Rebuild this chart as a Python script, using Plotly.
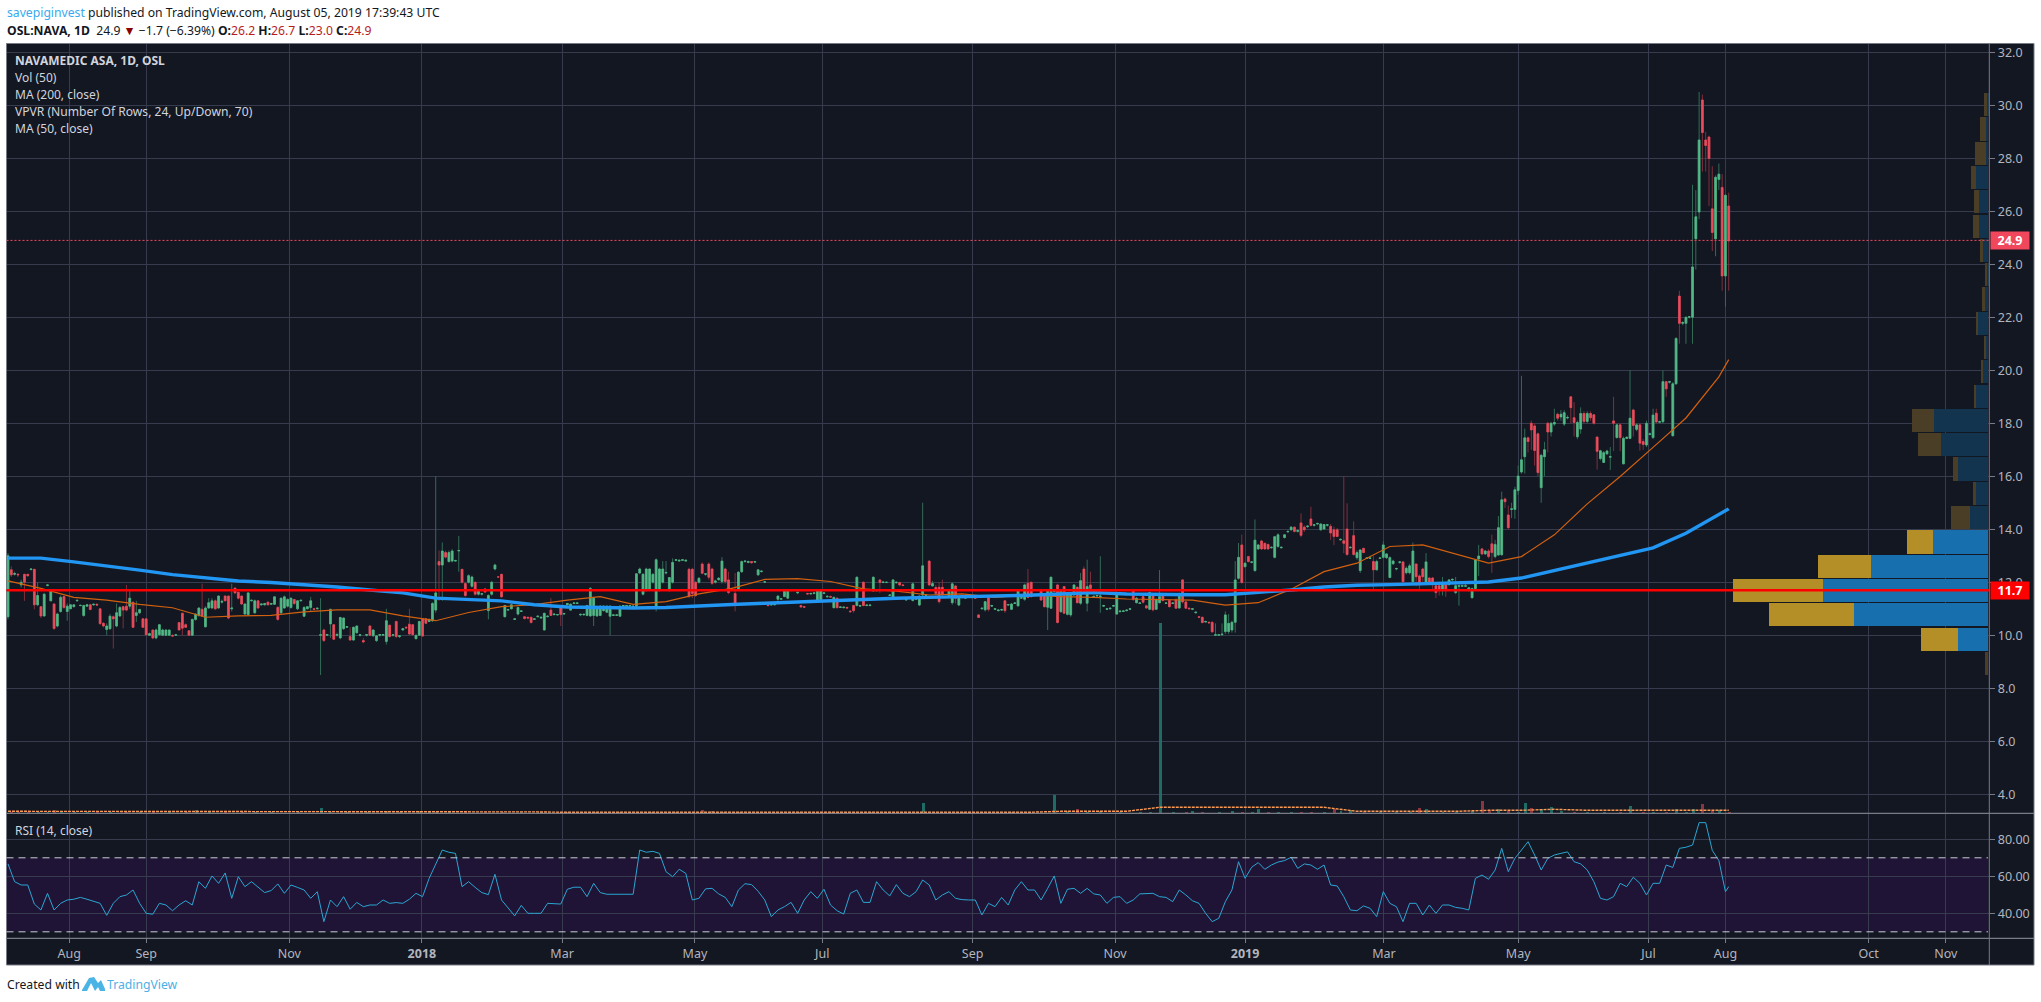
import plotly.graph_objects as go

W, H = 2041, 1002

open_ = [
10.7,12.47,12.3,12.3,11.9,12.3,12.3,12.48,12.49,11.15,
11.08,10.73,11.88,11.3,11.18,10.35,10.9,11.46,10.9,11.0,
11.08,11.3,11.12,10.75,11.1,11.15,11.15,11.17,11.0,10.45,
10.22,10.25,10.7,10.35,10.73,11.08,11.1,11.1,11.25,10.75,
10.85,10.62,10.62,10.0,10.2,9.9,10.02,10.0,10.0,10.0,
10.0,10.0,10.48,10.83,10.4,10.17,10.0,10.6,10.75,10.98,
10.32,11.03,11.03,11.3,11.03,11.25,11.48,11.48,11.0,11.78,
11.62,11.48,10.8,10.78,11.3,10.85,11.3,11.15,11.15,11.25,
11.17,11.17,11.05,10.85,11.03,11.1,11.05,11.35,11.0,11.3,
10.72,11.0,11.05,11.0,11.0,10.0,10.2,10.0,10.43,10.4,
10.0,9.9,10.25,10.3,9.95,9.82,10.1,10.0,9.8,10.0,
10.35,9.98,9.8,10.0,10.0,9.77,10.38,10.0,10.52,9.95,
10.2,10.3,10.42,10.4,9.87,10.0,10.63,10.62,10.52,10.55,
10.95,12.78,12.65,13.12,12.78,12.8,12.8,13.18,12.49,11.95,
12.0,11.85,12.0,11.55,11.55,11.75,10.93,11.55,12.5,12.2,
12.3,10.7,10.95,11.0,10.6,10.8,10.9,10.7,10.68,10.68,
10.6,10.7,10.65,10.2,10.7,10.95,10.78,10.77,11.05,10.8,
11.15,10.95,11.2,11.2,10.77,10.77,10.75,10.73,10.75,10.73,
10.75,10.93,10.87,10.72,10.75,10.75,10.72,11.1,11.1,11.1,
11.08,11.1,12.35,11.55,11.7,11.72,12.0,11.1,11.7,12.0,
12.35,11.7,12.0,12.83,12.8,12.83,12.8,12.49,12.49,12.0,
12.0,12.69,12.3,12.69,12.5,12.0,12.1,12.03,12.5,12.09,
11.75,11.58,11.71,12.4,12.78,12.75,12.78,12.76,12.28,12.4,
12.0,11.14,11.14,11.15,11.36,11.36,11.46,11.4,11.69,11.7,
11.6,11.12,11.08,11.58,11.56,11.58,11.3,11.35,11.58,11.45,
11.46,11.04,11.4,11.05,11.04,11.05,10.91,11.12,11.12,11.1,
12.0,11.12,11.12,11.67,11.68,12.09,11.99,11.99,11.5,11.37,
11.98,11.99,11.9,11.33,11.4,11.31,11.36,11.14,11.52,11.5,
12.8,11.86,11.8,11.81,11.81,11.7,11.43,11.23,11.86,11.14,
11.42,11.4,11.43,11.42,11.42,10.77,11.0,10.96,11.5,11.1,
10.98,10.93,10.95,11.3,11.14,10.98,11.2,11.11,11.4,11.36,
11.96,12.0,11.52,11.5,11.71,11.52,11.06,11.02,11.65,11.9,
10.89,11.84,10.79,10.77,11.52,11.81,11.21,12.5,11.21,11.9,
11.45,11.48,11.46,11.1,10.98,11.0,11.1,10.8,10.89,10.9,
10.93,10.98,11.71,11.23,11.2,11.46,11.11,10.98,11.48,10.98,
11.23,11.48,11.2,11.31,11.2,11.33,11.03,12.09,11.26,11.02,
10.98,10.85,10.7,10.68,10.5,10.49,10.49,10.0,10.0,10.02,
10.14,10.14,10.2,10.49,12.15,13.41,12.59,12.97,12.75,12.44,
13.26,13.56,13.47,13.43,13.3,12.94,13.35,13.3,13.69,13.9,
13.98,14.08,13.92,14.24,14.08,14.1,14.39,14.15,14.2,13.98,
14.01,14.15,14.11,13.98,13.98,13.6,13.57,14.01,13.3,13.76,
12.93,12.44,13.28,12.9,12.9,12.78,12.47,12.9,12.94,12.93,
12.18,12.7,12.5,12.75,12.77,12.36,12.36,12.02,12.69,12.24,
12.5,11.99,12.16,12.16,11.87,11.87,11.71,11.94,11.91,12.09,
11.61,11.85,11.85,11.85,11.71,11.42,11.76,12.88,13.26,13.07,
13.18,13.45,12.97,13.03,13.04,15.14,14.54,14.75,14.75,15.46,
16.16,16.74,17.45,18.0,17.9,17.6,15.57,16.74,18.0,17.67,
17.97,18.34,18.24,17.97,18.2,19.0,18.21,17.49,17.78,18.37,
18.07,18.37,18.32,17.48,16.67,16.52,16.85,16.72,18.09,17.46,
17.94,16.47,17.43,17.43,18.5,17.77,17.94,17.31,17.18,17.58,
17.46,18.38,18.04,18.06,19.57,19.55,17.53,19.49,22.8,21.77,
21.77,22.0,22.0,24.96,25.97,30.2,28.69,28.8,26.09,24.96,
27.2,26.9,23.56,26.2]

close_ = [
13.0,12.28,12.33,12.28,12.0,12.0,12.25,12.5,11.15,11.5,
10.73,11.55,11.9,11.7,10.26,10.8,11.43,11.05,11.1,11.15,
11.15,11.32,11.13,11.12,11.15,10.97,11.17,11.14,10.44,10.35,
10.35,10.72,10.62,10.85,11.05,10.95,10.95,11.4,10.3,10.85,
10.97,10.3,10.02,10.06,9.9,10.2,10.4,10.2,10.2,10.2,
9.97,10.02,10.2,10.27,10.3,10.0,10.6,10.8,11.03,10.73,
11.03,11.23,11.3,11.0,11.48,11.28,11.3,10.65,11.03,11.6,
11.4,11.18,11.18,11.6,11.32,11.3,11.03,11.18,11.2,11.15,
11.2,11.45,10.6,11.4,11.45,11.35,11.4,11.2,11.3,11.32,
11.05,11.08,11.3,10.98,11.02,10.02,9.8,10.03,10.98,9.85,
10.03,10.67,10.65,10.33,9.82,10.3,10.35,10.02,9.75,10.03,
10.0,10.2,9.98,10.03,10.03,10.55,9.95,10.02,9.95,9.98,
10.25,10.28,10.05,10.02,10.0,10.52,9.97,10.45,10.6,11.2,
11.6,12.65,13.18,12.95,13.12,13.18,12.82,13.2,12.0,11.5,
12.25,12.2,11.55,11.72,11.57,11.63,11.5,12.0,12.65,12.2,
11.45,11.12,10.97,11.15,10.62,11.05,10.92,10.63,10.65,10.48,
10.62,10.72,10.68,10.83,10.72,10.75,10.8,10.78,10.78,10.82,
11.2,11.17,11.22,11.22,10.79,10.79,11.12,11.77,11.4,11.08,
11.1,11.1,11.1,11.1,10.77,10.77,11.1,11.12,11.12,11.12,
11.1,12.32,12.5,12.3,12.5,12.5,12.3,12.85,12.5,12.5,
12.37,12.18,12.75,12.85,12.83,12.85,12.83,11.48,11.58,11.5,
12.15,12.34,12.32,12.19,11.96,12.05,12.15,12.8,12.03,11.61,
11.73,11.21,12.38,12.78,12.8,12.78,12.74,12.78,12.47,12.42,
12.02,11.12,11.16,11.17,11.48,11.38,11.71,11.71,11.7,11.72,
11.62,11.07,11.06,11.56,11.58,11.6,11.71,11.71,11.6,11.47,
11.44,11.43,11.04,11.07,11.06,11.03,10.89,10.93,12.19,11.12,
11.12,11.14,11.14,12.19,11.7,11.99,12.01,12.0,11.52,12.09,
12.0,11.9,11.88,11.35,11.42,11.94,11.38,11.48,12.62,11.52,
11.9,11.95,11.58,11.27,11.52,11.72,11.71,11.94,11.4,11.4,
11.44,11.42,11.45,11.44,11.4,10.67,11.02,11.27,10.98,11.12,
11.0,10.95,10.97,10.93,11.16,11.18,11.22,11.71,11.42,11.9,
11.43,11.46,11.54,11.52,11.33,11.08,11.71,12.19,11.67,10.48,
11.71,10.83,11.58,11.52,11.9,11.23,12.06,11.58,11.84,11.77,
11.47,11.5,11.48,11.12,11.0,11.02,11.12,11.61,10.91,10.92,
10.95,11.0,11.36,11.4,11.22,11.25,11.03,11.61,10.96,11.33,
11.46,11.31,11.22,11.08,11.22,11.02,11.58,11.26,11.02,11.0,
11.0,10.87,10.68,10.48,10.52,10.47,10.13,10.02,10.02,10.04,
10.77,10.45,10.49,12.09,12.94,11.99,12.72,12.78,12.77,13.59,
13.41,13.26,13.26,13.26,13.32,13.72,13.79,13.32,13.79,13.92,
14.08,13.92,13.95,13.77,13.98,14.12,14.15,14.17,14.22,14.2,
14.18,14.17,13.86,13.73,13.73,13.62,13.47,13.05,13.32,13.05,
13.12,13.22,13.12,12.92,12.92,12.47,12.78,12.92,13.41,13.07,
12.93,12.8,12.52,12.77,12.02,12.53,12.62,13.18,12.21,11.9,
12.21,12.77,12.0,11.99,11.61,11.71,11.94,11.71,12.09,12.11,
11.87,11.87,11.87,11.87,11.79,11.76,12.84,12.99,13.07,13.18,
12.97,13.12,13.43,14.06,15.11,15.04,14.06,14.77,15.49,16.01,
16.62,17.45,17.31,17.75,16.97,16.14,16.79,17.0,17.67,18.0,
18.03,18.19,18.34,18.4,18.22,18.59,18.03,18.03,18.37,18.07,
18.37,18.21,18.0,16.94,16.96,16.89,16.95,16.74,18.0,17.94,
17.46,17.43,17.47,18.19,17.92,17.94,17.25,17.2,18.0,17.6,
18.31,18.05,18.06,19.57,19.3,19.57,19.49,21.2,21.77,21.8,
22.0,22.02,23.9,25.79,28.69,28.97,28.48,27.99,25.2,27.28,
27.4,23.56,26.6,24.88]

high_ = [
13.1,12.6,12.4,12.35,12.1,12.32,12.3,12.52,12.5,12.0,
11.1,11.6,11.92,11.75,11.2,10.85,11.5,11.5,11.2,11.15,
11.15,11.33,11.15,11.15,11.18,11.17,11.2,11.2,11.0,10.5,
10.45,10.8,10.75,11.2,11.1,11.1,11.9,11.7,11.25,11.3,
11.0,10.65,10.65,10.1,10.2,10.25,10.42,10.25,10.22,10.2,
10.03,10.05,10.5,10.85,10.45,10.2,10.62,10.82,11.05,11.95,
11.1,11.4,11.4,11.35,11.5,11.35,11.5,11.5,11.95,11.8,
11.65,11.5,11.2,11.62,11.35,11.35,11.32,11.2,11.22,11.27,
11.22,11.47,11.1,11.42,11.5,11.4,11.42,11.37,11.33,11.35,
11.1,11.1,11.45,11.02,11.05,11.4,10.25,10.05,11.0,10.42,
10.1,10.7,10.67,10.35,10.3,10.33,10.37,10.05,9.9,10.05,
10.38,10.22,10.0,10.05,10.05,11.0,10.4,10.05,10.55,10.0,
10.28,10.35,11.0,10.42,10.02,10.55,10.65,10.65,10.63,11.25,
16.0,13.2,13.5,13.2,13.2,13.25,12.85,13.75,12.5,12.0,
12.3,12.25,12.02,11.75,11.6,11.78,11.55,12.05,12.7,12.22,
12.32,11.15,11.0,11.2,10.65,11.08,10.95,10.72,10.7,10.7,
10.65,10.75,10.7,10.85,10.75,11.4,10.82,10.8,11.07,10.85,
11.22,11.2,11.25,11.25,10.82,10.82,11.15,11.82,11.45,11.12,
11.13,11.13,11.12,11.12,10.8,10.8,11.12,11.14,11.14,11.14,
11.12,12.35,12.55,12.35,12.55,12.52,12.35,12.9,12.55,12.8,
12.8,12.2,12.9,12.87,12.85,12.87,12.85,12.55,12.55,12.05,
12.2,12.75,12.35,12.75,12.55,12.1,12.2,12.95,12.55,12.4,
11.8,12.35,12.42,12.82,12.82,12.82,12.8,12.8,12.5,12.45,
12.05,11.18,11.2,11.2,11.5,11.4,11.73,11.73,11.72,11.75,
11.65,11.15,11.1,11.6,11.6,11.62,11.74,11.74,11.63,11.5,
11.5,11.46,11.42,11.1,11.08,11.08,10.95,11.15,12.22,11.15,
12.03,11.16,11.16,12.22,11.72,12.1,12.03,12.03,11.55,12.12,
12.03,12.02,11.93,11.38,11.45,12.0,11.42,11.5,15.0,11.55,
12.82,12.05,11.9,12.0,12.1,11.75,11.75,12.0,11.9,11.45,
11.46,11.45,11.47,11.46,11.45,10.8,11.05,11.3,11.52,11.15,
11.03,10.98,11.0,11.33,11.18,11.22,11.25,11.74,11.45,11.95,
12.5,12.02,11.56,11.55,11.75,11.55,11.74,12.22,11.7,11.95,
11.75,11.85,11.62,11.55,11.92,11.85,12.35,12.6,12.85,12.4,
11.5,11.52,12.98,11.15,11.03,11.05,11.15,11.65,10.95,10.95,
10.98,11.03,11.75,11.45,11.25,11.5,11.15,11.65,11.5,11.4,
12.46,11.5,11.25,11.35,11.25,11.4,11.6,12.12,11.3,11.05,
11.03,10.9,10.72,10.7,10.55,10.52,10.52,10.45,10.05,10.45,
10.9,10.8,10.55,12.8,13.48,13.8,12.75,13.0,12.8,14.37,
13.45,13.6,13.5,13.45,13.35,13.75,13.85,13.35,13.82,13.95,
14.12,14.1,14.0,14.6,14.15,14.15,14.85,14.2,14.25,14.22,
14.2,14.2,14.2,14.1,14.05,13.65,16.0,14.98,13.35,14.3,
13.2,13.25,13.3,12.95,13.0,13.0,12.85,12.95,13.55,13.1,
12.98,12.85,12.55,12.8,12.8,12.6,12.7,13.5,12.7,12.3,
12.55,13.1,12.2,12.2,11.9,11.9,12.2,11.97,12.12,12.14,
12.2,11.9,11.9,11.95,11.82,11.8,12.87,13.41,13.3,13.22,
13.25,13.8,13.6,14.5,15.42,15.2,14.9,15.0,15.6,16.4,
19.79,17.8,17.5,18.1,18.0,17.65,16.85,17.3,18.05,18.05,
18.55,18.4,18.5,18.5,18.3,19.0,18.8,18.1,18.6,18.45,
18.45,18.45,18.35,17.5,17.0,16.95,17.0,17.1,19.0,17.98,
18.0,17.5,17.5,20.0,18.55,18.0,18.0,17.4,18.1,17.65,
18.55,18.55,18.1,20.0,19.6,19.6,19.55,21.25,23.0,21.85,
22.02,22.05,27.0,26.8,30.5,30.4,29.0,28.85,27.7,27.35,
27.8,27.4,26.65,26.7]

low_ = [
10.6,12.2,12.25,12.2,11.8,11.3,12.2,12.45,10.98,11.1,
10.65,10.7,11.85,11.3,10.2,10.3,10.85,11.0,10.55,11.0,
11.05,11.28,11.1,10.7,11.08,10.95,11.12,11.1,10.4,10.3,
10.0,10.2,9.5,10.3,10.7,10.26,10.9,11.0,10.3,10.5,
10.8,10.3,10.0,9.98,9.85,9.85,10.0,10.0,10.0,9.98,
9.95,9.98,10.2,10.0,10.28,10.0,10.0,10.55,10.7,10.7,
10.3,11.0,11.0,10.95,11.0,11.2,11.3,10.6,10.9,11.55,
11.35,11.15,10.78,10.75,11.28,10.8,11.0,11.12,11.12,11.12,
11.15,11.15,10.55,10.8,11.0,11.05,11.0,11.15,10.95,11.28,
10.7,10.98,10.9,10.95,10.97,8.5,9.75,9.98,9.9,9.82,
9.95,9.85,10.2,10.28,9.8,9.8,10.05,9.95,9.7,9.95,
9.97,9.95,9.75,9.95,9.97,9.65,9.92,9.95,9.9,9.9,
10.18,10.25,10.0,10.0,9.85,9.98,9.95,10.42,10.5,10.5,
10.85,11.3,11.3,12.9,12.75,12.75,12.78,12.4,11.95,11.45,
11.95,11.8,11.5,11.5,11.5,11.6,10.6,11.5,12.45,12.18,
11.43,10.68,10.92,10.98,10.58,10.75,10.88,10.6,10.6,10.45,
10.58,10.68,10.62,10.18,10.68,10.73,10.75,10.75,10.35,10.78,
11.13,10.93,11.18,11.18,10.72,10.75,10.72,10.7,10.35,10.7,
10.72,10.9,10.85,10.0,10.73,10.73,10.7,11.08,11.08,11.08,
11.05,11.05,12.3,11.5,11.65,11.7,11.95,10.9,11.65,11.95,
12.3,11.65,11.95,12.8,12.78,12.8,12.78,11.4,11.4,11.45,
11.95,12.3,12.25,12.1,11.9,11.95,12.05,11.95,11.95,11.55,
11.7,10.9,11.7,12.35,12.75,12.72,12.7,12.74,12.25,12.38,
11.98,11.1,11.12,11.12,11.3,11.33,11.44,11.38,11.66,11.67,
11.55,11.05,11.04,11.54,11.53,11.55,11.28,11.33,11.55,11.42,
11.42,11.02,11.02,11.03,11.02,11.0,10.85,10.85,11.1,11.08,
11.1,11.1,11.1,11.65,11.66,11.6,11.97,11.97,11.48,11.35,
11.95,11.85,11.85,11.3,11.38,11.28,11.33,11.1,11.48,11.45,
11.85,11.85,11.5,11.2,11.5,11.68,11.4,11.15,11.2,11.1,
11.4,11.38,11.41,11.4,11.38,10.65,10.98,10.9,10.9,11.08,
10.95,10.9,10.92,10.85,11.1,10.95,11.18,11.08,11.38,11.3,
11.4,11.42,11.5,11.48,11.3,11.05,10.2,11.0,11.62,10.45,
10.85,10.8,10.75,10.7,11.5,11.2,11.15,11.55,10.9,11.7,
11.42,11.45,10.85,11.08,10.95,10.97,11.08,10.78,10.87,10.88,
10.9,10.95,11.3,11.2,11.18,11.2,11.0,10.95,10.9,10.95,
11.2,11.28,11.18,11.05,11.18,11.0,11.0,11.2,11.0,10.98,
10.95,10.82,10.65,10.45,10.48,10.45,10.1,9.97,9.98,10.0,
10.05,10.05,10.1,10.1,12.1,11.95,12.55,12.75,12.72,12.4,
13.22,13.22,13.22,13.22,13.28,12.9,13.3,13.28,13.65,13.88,
13.95,13.88,13.88,13.7,13.9,14.05,14.1,14.1,14.15,13.95,
13.98,14.1,13.6,13.4,13.7,13.58,13.1,13.0,13.28,13.0,
12.85,12.35,13.1,12.88,12.88,11.75,12.45,12.88,12.9,12.88,
12.15,12.65,12.45,12.7,11.95,12.3,12.3,11.95,11.85,11.7,
12.0,11.9,11.9,11.7,11.4,11.5,11.5,11.45,11.88,12.05,
11.55,11.12,11.82,11.82,11.65,11.38,11.72,12.24,13.02,13.03,
12.9,12.36,12.9,13.0,13.0,14.8,14.0,14.42,14.4,15.3,
16.1,16.1,16.9,17.0,16.4,16.0,15.0,16.0,16.9,17.5,
17.9,18.1,18.1,17.9,18.15,18.0,17.5,17.4,17.6,18.0,
18.0,18.1,17.95,16.25,16.6,16.5,16.8,16.24,16.95,17.42,
16.95,16.45,17.4,17.4,17.5,17.7,16.97,17.0,17.1,17.55,
17.4,18.0,18.0,18.0,19.0,19.5,17.5,19.45,21.0,21.7,
21.0,21.95,21.0,23.8,25.7,27.5,27.5,26.2,24.5,24.3,
26.8,23.0,22.4,23.0]

ma200 = [12.91,12.91,12.77,12.63,12.46,12.29,12.16,12.05,11.99,11.92,11.82,11.71,11.6,11.4,11.36,11.3,11.15,11.07,11.05,11.03,11.05,11.09,
11.16,11.21,11.26,11.33,11.37,11.4,11.43,11.45,11.46,11.51,11.56,11.61,11.56,11.53,11.53,11.53,11.61,11.71,11.82,11.89,11.91,11.94,11.96,12.01,
12.16,12.44,12.74,13.03,13.3,13.85,14.57,14.77]
ma50 = [12.05,11.77,11.43,11.33,11.17,11.04,10.68,10.73,10.75,10.88,10.96,10.96,10.73,10.55,10.86,11.08,11.16,11.33,11.46,11.17,11.27,11.56,
11.77,12.11,12.14,12.03,11.75,11.67,11.52,11.56,11.43,11.52,11.46,11.43,11.37,11.36,11.33,11.14,11.23,11.74,12.4,12.72,13.35,13.41,13.07,12.72,
12.97,13.79,14.96,15.99,17.09,18.2,19.75,20.4]
vol_ma = [2,2,2,2,2,2,2,2,2,1.4,1.4,1.4,1.4,1.4,1.4,1.4,1.4,1,1,1,1,1.6,1.6,1.6,1.6,1.6,1,1,1,1,1,1,2,2,2,6,6,6,6,6,6,2,2,2,2,3,3,4,3,3,3,3,3,3]

vol_bars = [1,3,6,9,12,14,16,20,24,27,
31,36,40,44,49,54,57,61,66,71,
75,80,88,95,98,103,109,115,119,125,
128,130,134,139,145,150,156,162,170,178,
186,195,203,211,214,217,222,230,240,250,
262,278,290,305,318,322,325,328,332,338,
344,347,350,354,358,360,363,368,372,375,
378,380,383,386,390,393,396,400,403,405,
408,412,417,422,426,429,431,436,440,445,
448,450,453,456,459,461,463,466,469,472,
476,480,485,490,493,497,500,504,507,510,
512,515,518,520,523]
vol_values = [2,2,2,2,2,4,2,2,2,2,
2,2,2,2,2,2,4,2,2,2,
2,2,2,6,2,2,2,3,2,3,
2,2,2,2,2,2,2,2,2,2,
2,2,2,4,3,2,2,2,2,2,
2,11,2,2,19,3,5,2,3,2,
2,2,191,2,2,3,2,2,3,2,
2,5,2,2,2,2,2,2,5,3,
4,2,2,2,2,6,5,2,2,3,
13,3,5,3,2,11,6,5,7,3,
2,2,2,2,8,2,2,2,5,2,
5,10,3,4,2]

rsi = [66.7,57.1,55.3,55.3,45,41.8,50.8,41.8,45.4,47.2,47.6,48.6,47.6,46.7,45.4,38.9,45.4,49,49.9,52.6,
45.4,40,39.5,45.4,44.5,41.4,44.5,46.8,44.5,57.1,53.5,60.2,56.2,61.8,48.1,59.8,54.4,57.1,54,51.2,
52.3,55.9,50.8,55.3,54,52.6,48.1,51.7,35.5,47.2,43.6,49,42.2,45.9,43.6,44.5,44.5,47.2,45.4,45.8,
45.4,47.6,50.8,49,58.9,67,74.2,73,72.4,54.4,57.1,54,51.2,50.1,61.1,47.2,43.2,38.6,44.3,40,
40,40,45.4,45,45,53,54.1,54.1,49,56.2,51.2,50.3,50.3,50.3,50.3,50.3,74.2,73,73.5,72.4,
62.5,59.8,63.8,61.6,47.2,48.1,53.2,53.5,50.5,48.6,43.6,52.6,56,55.5,51.9,47.2,38.2,41.8,43.6,45.9,
40,47.2,51.7,48.1,53,44.5,41.4,39.6,50.8,52.6,45.9,45.9,57.1,52.6,49.4,55.5,50.8,49,51.7,58,
55.3,47.2,49.9,51.7,48.1,47.4,47.2,47.2,39.1,45.4,43.6,48.6,44.5,52.6,57.1,52.6,52.6,47.2,53.5,60.2,
45.4,53,53.5,50.8,53.5,50.5,49.9,45.4,48.6,49,45.4,47.2,50.5,50.8,50.8,49,48.6,46.3,52.6,49.9,
46.8,45.4,40,35.5,37.3,46.3,52.6,67.9,58.9,64.9,67.4,63.8,66.1,67.7,68.5,70.3,64.3,66.7,66.1,63.8,
66.1,55.3,54.8,49,41.8,41.4,44,42.7,38.2,51.7,45.4,43.6,35.5,45.4,45.4,39.1,44.5,40,44.5,44.5,
43.2,42.7,41.8,58.9,60.7,58.4,63.4,75.1,62.5,69.7,74.2,78.7,71.5,63.4,69.7,71.5,72.4,73.2,67.9,66.7,
63.4,57.1,48.1,47.2,49,56.2,54.4,59.5,56.2,49.9,56.2,56.2,66.1,64.8,75.1,75.7,76.9,89,89,74,
68.5,51.7,54.4]

vpvr_up = [0,87,389,481,342,162,55,36,87,138,159,37,18,9,29,11,4,17,27,27,36,8,6,5]
vpvr_down = [11,110,247,261,153,75,55,9,17,67,63,5,1,2,8,7,7,9,19,15,14,32,18,9]
vpvr_value_area = [0,1,1,1,1,1,0,0,0,0,0,0,0,0,0,0,0,0,0,0,0,0,0,0]
vpvr_low, vpvr_high = 8.5, 30.5

price_ticks_rsi = [40, 60, 80]
month_labels = ["Aug","Sep","Nov","<b>2018</b>","Mar","May","Jul","Sep","Nov","<b>2019</b>","Mar","May","Jul","Aug","Oct","Nov"]
month_bars = [18.6,42.0,85.5,125.8,168.4,208.8,247.5,293.2,336.5,376.0,418.2,459.0,498.6,522.0,565.5,589.0]
last_price = 24.9
level_price = 11.7

n = len(open_)
assert n == len(close_) == len(high_) == len(low_) == 524, (len(open_), len(close_), len(high_), len(low_))
assert len(vol_bars) == len(vol_values)
bars = list(range(n))
ma_bars = bars[::10] + [n - 1]
rsi_bars = bars[::2] + [n - 1]
assert len(ma200) == len(ma50) == len(vol_ma) == len(ma_bars), (len(ma200), len(ma50), len(vol_ma), len(ma_bars))
assert len(rsi) == len(rsi_bars), (len(rsi), len(rsi_bars))

BG = "#131722"; GRID = "#363c4e"; FRAME = "#787b86"; AXT = "#b2b5be"; LEG = "#d1d4dc"
FONT = "Noto Sans"
UP = "#53b987"; DN = "#eb4d5c"; UPW = "#336b57"; DNW = "#7f2f3d"

def px(x): return x / W
def py(y): return 1 - y / H

fig = go.Figure()

fig.add_trace(go.Candlestick(x=bars, open=open_, high=high_, low=low_, close=close_,
    increasing=dict(line=dict(color=UPW, width=1), fillcolor=UPW),
    decreasing=dict(line=dict(color=DNW, width=1), fillcolor=DNW),
    hoverinfo="skip", showlegend=False, xaxis="x", yaxis="y"))
fig.add_trace(go.Candlestick(x=bars, open=open_, close=close_,
    high=[max(a, b) for a, b in zip(open_, close_)],
    low=[min(a, b) for a, b in zip(open_, close_)],
    increasing=dict(line=dict(color=UP, width=0.6), fillcolor=UP),
    decreasing=dict(line=dict(color=DN, width=0.6), fillcolor=DN),
    hoverinfo="skip", showlegend=False, xaxis="x", yaxis="y"))
fig.add_trace(go.Scatter(x=ma_bars, y=ma50, mode="lines", line=dict(color="#d2600f", width=1.2),
    hoverinfo="skip", showlegend=False, xaxis="x", yaxis="y"))
fig.add_trace(go.Scatter(x=ma_bars, y=ma200, mode="lines", line=dict(color="#2196f3", width=3.4),
    hoverinfo="skip", showlegend=False, xaxis="x", yaxis="y"))

fig.add_trace(go.Bar(x=vol_bars, y=vol_values, width=0.9,
    marker=dict(color=["#1f6b66" if close_[b] >= open_[b] else "#8a3540" for b in vol_bars], line_width=0),
    hoverinfo="skip", showlegend=False, xaxis="x", yaxis="y3"))
fig.add_trace(go.Scatter(x=ma_bars, y=vol_ma, mode="lines", line=dict(color="#ff9a52", width=1.4, dash="3px,1px"),
    hoverinfo="skip", showlegend=False, xaxis="x", yaxis="y3"))

step = (vpvr_high - vpvr_low) / len(vpvr_up)
centers = [vpvr_low + step * (i + 0.5) for i in range(len(vpvr_up))]
fig.add_trace(go.Bar(y=centers, x=vpvr_up, orientation="h", width=step * 0.955,
    marker=dict(color=["#176fad" if v else "#12344f" for v in vpvr_value_area], line_width=0),
    hoverinfo="skip", showlegend=False, xaxis="x3", yaxis="y"))
fig.add_trace(go.Bar(y=centers, x=vpvr_down, orientation="h", width=step * 0.955,
    marker=dict(color=["#b48f27" if v else "#4a3f26" for v in vpvr_value_area], line_width=0),
    hoverinfo="skip", showlegend=False, xaxis="x3", yaxis="y"))

fig.add_trace(go.Scatter(x=rsi_bars, y=rsi, mode="lines", line=dict(color="#2ba6d2", width=1),
    hoverinfo="skip", showlegend=False, xaxis="x", yaxis="y2"))

L, T, AX, R, B, P1, P2 = 6.5, 43.5, 1989.3, 2034, 965, 813.3, 938.3

shapes = [
    dict(type="rect", xref="paper", yref="paper", x0=px(L), x1=px(R), y0=py(B), y1=py(T),
         fillcolor=BG, line=dict(color=FRAME, width=1), layer="below"),
    dict(type="rect", xref="paper", yref="y2", x0=px(L), x1=px(1988), y0=30, y1=70,
         fillcolor="rgba(152,0,255,0.09)", line_width=0, layer="below"),
]
for v in (70, 30):
    shapes.append(dict(type="line", xref="paper", yref="y2", x0=px(L), x1=px(1988), y0=v, y1=v,
                       line=dict(color="#c9cbd3", width=1, dash="7px,5px")))
for yy in (P1, P2):
    shapes.append(dict(type="line", xref="paper", yref="paper", x0=px(L), x1=px(R), y0=py(yy), y1=py(yy),
                       line=dict(color=FRAME, width=1.2)))
shapes.append(dict(type="line", xref="paper", yref="paper", x0=px(AX), x1=px(AX), y0=py(T), y1=py(B),
                   line=dict(color=FRAME, width=1)))
shapes.append(dict(type="line", xref="paper", yref="y", x0=px(L), x1=px(AX), y0=last_price, y1=last_price,
                   line=dict(color="#f0475c", width=1, dash="2px,2px")))
shapes.append(dict(type="line", xref="paper", yref="y", x0=px(L), x1=px(AX), y0=level_price, y1=level_price,
                   line=dict(color="#ff0000", width=2.4)))
logo = [(82,990),(89,978),(94,977),(98,983),(101,980),(105,989),(105,991),(100,991),(98,987),(95,991),(91,983),(87,991),(82,991)]
path = "M" + " L".join(f"{px(a):.5f},{py(b):.5f}" for a, b in logo) + " Z"
shapes.append(dict(type="path", xref="paper", yref="paper", path=path, fillcolor="#4bb4e6", line_width=0))

def text(x, y, s, size=12, color=LEG, **kw):
    return dict(xref="paper", yref="paper", x=px(x), y=py(y), text=s, showarrow=False, xanchor="left",
                yanchor="middle", align="left", font=dict(family=FONT, size=size, color=color), **kw)

DR = "#b71c1c"
annotations = [
    text(4.5, 12.7, '<span style="color:#38a9ee">savepiginvest</span> published on TradingView.com, August 05, 2019 17:39:43 UTC', 12.2, "#131722"),
    text(4.5, 30, f'<b>OSL:NAVA, 1D</b>  24.9 <span style="color:#8b0000">▼</span> −1.7 (−6.39%) <b>O:</b><span style="color:{DR}">26.2</span> <b>H:</b><span style="color:{DR}">26.7</span> <b>L:</b><span style="color:{DR}">23.0</span> <b>C:</b><span style="color:{DR}">24.9</span>', 12.2, "#131722"),
    text(12.8, 61, "<b>NAVAMEDIC ASA, 1D, OSL</b>"),
    text(12.8, 77.7, "Vol (50)"),
    text(12.8, 94.7, "MA (200, close)"),
    text(12.8, 111.7, "VPVR (Number Of Rows, 24, Up/Down, 70)", 12.1),
    text(12.8, 128.7, "MA (50, close)"),
    text(12.8, 830.5, "RSI (14, close)"),
    text(4.5, 984, "Created with", 12.2, "#131722"),
    text(105, 984, "TradingView", 12.2, "#4bb0e8"),
]
for val, col in ((last_price, "#f0475c"), (level_price, "#ff0000")):
    annotations.append(dict(xref="paper", yref="y", x=px(AX + 0.5), y=val, text=f"<b>{val:.1f}</b>", showarrow=False,
                            xanchor="left", yanchor="middle", width=36, height=15, align="center", bgcolor=col,
                            font=dict(family=FONT, size=12.5, color="#ffffff")))

fig.update_layout(
    width=W, height=H, margin=dict(l=0, r=0, t=0, b=0), autosize=False,
    paper_bgcolor="#ffffff", plot_bgcolor=BG,
    showlegend=False, barmode="stack", boxmode="overlay", boxgap=0.22, bargap=0,
    shapes=shapes, annotations=annotations,
    font=dict(family=FONT),
    xaxis=dict(domain=[px(L), px(AX)], range=[-0.46, 602.2], anchor="y2",
               tickmode="array", tickvals=month_bars, ticktext=month_labels,
               showgrid=True, gridcolor=GRID, gridwidth=1, zeroline=False, showline=False,
               ticks="outside", ticklen=4, tickcolor=FRAME, tickangle=0,
               tickfont=dict(family=FONT, size=12.5, color=AXT), rangeslider=dict(visible=False)),
    xaxis3=dict(overlaying="x", anchor="y", range=[5746, -3.8], visible=False, showgrid=False, zeroline=False),
    yaxis=dict(domain=[py(P1), py(T)], range=[3.283, 32.33], side="right", anchor="x",
               tickmode="linear", tick0=0, dtick=2, tickformat=".1f",
               showgrid=True, gridcolor=GRID, zeroline=False, showline=False,
               ticks="outside", ticklen=5, tickcolor=FRAME,
               tickfont=dict(family=FONT, size=12.5, color=AXT)),
    yaxis2=dict(domain=[py(P2), py(P1)], range=[26.5, 94.05], side="right", anchor="x",
                tickmode="array", tickvals=price_ticks_rsi, ticktext=[f"{v:.2f}" for v in price_ticks_rsi],
                showgrid=True, gridcolor=GRID, zeroline=False, showline=False,
                ticks="outside", ticklen=5, tickcolor=FRAME,
                tickfont=dict(family=FONT, size=12.5, color=AXT)),
    yaxis3=dict(overlaying="y", anchor="x", range=[0, 769.8], visible=False, showgrid=False, zeroline=False),
)

fig.write_html("out.html", config=dict(displayModeBar=False),
               post_script="document.body.style.margin='0';document.body.style.overflow='hidden';")
